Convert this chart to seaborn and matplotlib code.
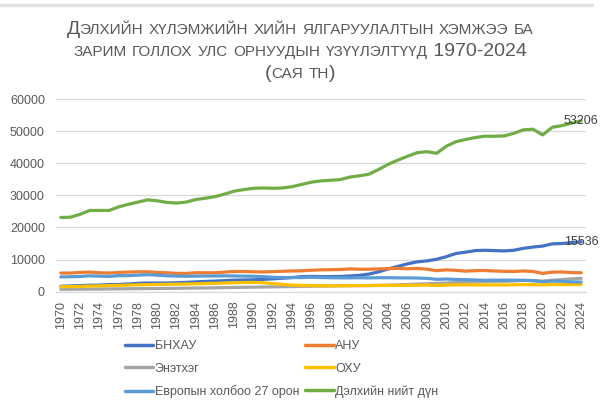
import numpy as np
import pandas as pd
import matplotlib
matplotlib.use("Agg")
import matplotlib.pyplot as plt
import seaborn as sns
from matplotlib.lines import Line2D

years = list(range(1970, 2025))

china = [1700, 1800, 1900, 2000, 2050, 2200, 2250, 2400, 2600, 2700,
         2700, 2700, 2800, 2900, 3050, 3200, 3300, 3450, 3600, 3650,
         3700, 3850, 4000, 4200, 4400, 4700, 4750, 4700, 4700, 4750,
         4900, 5100, 5500, 6200, 7100, 7900, 8700, 9300, 9600, 10100,
         10900, 11900, 12300, 12800, 12900, 12800, 12700, 12900, 13500, 13900,
         14200, 14900, 15000, 15300, 15536]
usa = [5800, 5800, 6000, 6100, 5900, 5800, 6000, 6100, 6200, 6200,
       6000, 5900, 5700, 5700, 5900, 5900, 5900, 6100, 6300, 6300,
       6200, 6150, 6250, 6350, 6450, 6500, 6700, 6800, 6850, 6900,
       7100, 7000, 7000, 7100, 7200, 7250, 7150, 7250, 7000, 6550,
       6800, 6650, 6400, 6550, 6600, 6450, 6350, 6300, 6450, 6300,
       5700, 6100, 6150, 5950, 5900]
india = [750, 770, 790, 810, 830, 860, 890, 920, 950, 980,
         1000, 1030, 1060, 1100, 1130, 1170, 1210, 1260, 1320, 1380,
         1420, 1470, 1510, 1550, 1600, 1660, 1700, 1740, 1770, 1830,
         1860, 1890, 1920, 1970, 2060, 2150, 2250, 2370, 2460, 2600,
         2700, 2820, 2950, 3000, 3150, 3200, 3250, 3350, 3500, 3500,
         3300, 3550, 3750, 4000, 4150]
russia = [1550, 1600, 1650, 1750, 1800, 1900, 1950, 2050, 2150, 2200,
          2250, 2300, 2350, 2400, 2450, 2550, 2600, 2700, 2800, 2850,
          2900, 2800, 2500, 2300, 2050, 1950, 1900, 1850, 1800, 1850,
          1900, 1900, 1900, 1950, 1950, 1950, 2000, 2000, 2050, 1950,
          2050, 2100, 2150, 2100, 2100, 2100, 2100, 2150, 2200, 2200,
          2100, 2250, 2200, 2200, 2250]
eu27 = [4600, 4650, 4750, 4950, 4850, 4750, 5000, 5000, 5150, 5300,
        5150, 4950, 4850, 4800, 4850, 4900, 4900, 4950, 4900, 4850,
        4800, 4700, 4500, 4400, 4400, 4400, 4500, 4400, 4350, 4300,
        4300, 4350, 4300, 4350, 4350, 4300, 4300, 4250, 4150, 3850,
        3950, 3800, 3750, 3650, 3550, 3600, 3600, 3600, 3550, 3400,
        3100, 3300, 3250, 3050, 3000]
world = [23100, 23200, 24100, 25300, 25300, 25300, 26400, 27200, 27900, 28600,
         28300, 27800, 27600, 27900, 28700, 29100, 29600, 30400, 31300, 31800,
         32200, 32300, 32200, 32300, 32700, 33400, 34100, 34500, 34700, 34900,
         35700, 36100, 36600, 38100, 39700, 41000, 42200, 43300, 43600, 43100,
         45300, 46700, 47400, 48000, 48400, 48400, 48500, 49300, 50400, 50600,
         48800, 51200, 51700, 52500, 53206]

series_names = ["БНХАУ", "АНУ", "Энэтхэг", "ОХУ", "Европын холбоо 27 орон", "Дэлхийн нийт дүн"]
series_values = [china, usa, india, russia, eu27, world]
series_colors = ["#4472C4", "#ED7D31", "#A5A5A5", "#FFC000", "#5B9BD5", "#70AD47"]

title_lines = ["Дэлхийн хүлэмжийн хийн ялгаруулалтын хэмжээ ба",
               "зарим голлох улс орнуудын үзүүлэлтүүд 1970-2024",
               "(сая тн)"]
y_ticks = [0, 10000, 20000, 30000, 40000, 50000, 60000]
x_ticks = list(range(1970, 2025, 2))

sns.set_theme(style="white")
plt.rcParams['font.family'] = ['Liberation Sans', 'DejaVu Sans']

W, H = 600, 418
fig = plt.figure(figsize=(W / 100, H / 100), dpi=100)
fig.patch.set_facecolor("white")
ax = fig.add_axes([56 / W, 1 - 291.7 / H, (586 - 56) / W, (291.7 - 99) / H])

df = pd.DataFrame({"year": years})
handles = {}
for name, vals, col in zip(series_names, series_values, series_colors):
    df[name] = vals
    sns.lineplot(data=df, x="year", y=name, color=col, lw=2.3, ax=ax,
                 solid_capstyle="round", solid_joinstyle="round")
    handles[name] = Line2D([], [], color=col, lw=2.5)

ax.set_xlim(1969.5, 2024.5)
ax.set_ylim(0, 60000)
ax.set_yticks(y_ticks)
ax.set_yticklabels([str(v) for v in y_ticks])
ax.set_xticks(x_ticks)
ax.set_xticklabels([str(v) for v in x_ticks], rotation=90)
ax.set_xlabel("")
ax.set_ylabel("")
ax.grid(axis="y", color="#D9D9D9", lw=0.9)
ax.grid(axis="x", visible=False)
ax.set_axisbelow(True)
for s in ["top", "right", "left"]:
    ax.spines[s].set_visible(False)
ax.spines["bottom"].set_color("#D9D9D9")
ax.spines["bottom"].set_linewidth(0.9)
ax.tick_params(axis="y", length=0, pad=8, labelsize=9, labelcolor="#595959")
ax.tick_params(axis="x", length=0, pad=6.5, labelsize=9, labelcolor="#595959")

# end-value data labels
for vals in [world, china]:
    ax.text(years[-1], vals[-1], str(vals[-1]), ha="center", va="center",
            fontsize=9, color="#404040")

# legend (column-wise fill)
order = ["БНХАУ", "Энэтхэг", "Европын холбоо 27 орон", "АНУ", "ОХУ", "Дэлхийн нийт дүн"]
leg = fig.legend([handles[n] for n in order], order, loc="upper left",
                 bbox_to_anchor=(125 / W, 1 - 340 / H), ncol=2, frameon=False,
                 borderpad=0, borderaxespad=0, handlelength=2.25,
                 handletextpad=0.12, columnspacing=0.5, labelspacing=0.85,
                 fontsize=9)
for t in leg.get_texts():
    t.set_color("#595959")

# top frame line
fig.add_artist(Line2D([0, 592 / W], [1 - 5 / H, 1 - 5 / H], color="#E3E3E3", lw=2.5,
                      transform=fig.transFigure))

# small-caps title
renderer = fig.canvas.get_renderer()
big, small = 14, 11
baselines = [34.5, 56, 77.5]


def draw_smallcaps(line, base_px):
    runs = []
    for ch in line:
        if ch.islower():
            c, s = ch.upper(), small
        else:
            c, s = ch, big
        if runs and runs[-1][1] == s:
            runs[-1][0] += c
        else:
            runs.append([c, s])
    texts = []
    widths = []
    for txt, s in runs:
        t = fig.text(0, 1 - base_px / H, txt, fontsize=s, color="#595959",
                     va="baseline", ha="left")
        w = t.get_window_extent(renderer).width
        texts.append(t)
        widths.append(w)
    total = sum(widths)
    x = W / 2 - total / 2
    for t, w in zip(texts, widths):
        t.set_x(x / W)
        x += w


for line, b in zip(title_lines, baselines):
    draw_smallcaps(line, b)

fig.savefig("out.png", dpi=100, facecolor="white")
